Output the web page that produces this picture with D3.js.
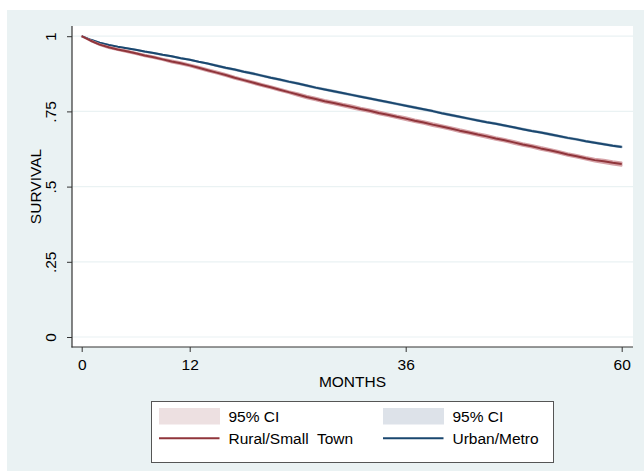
<!DOCTYPE html>
<html>
<head>
<meta charset="utf-8">
<script src="https://cdn.jsdelivr.net/npm/d3@7"></script>
<style>
  html, body { margin: 0; padding: 0; background: #ffffff; }
  svg { display: block; font-family: "Liberation Sans", Arial, Helvetica, sans-serif; }
</style>
</head>
<body>
<svg id="chart" width="644" height="471"></svg>
<script>
// Kaplan-Meier survival estimates by month, with 95% CI half-widths
const months = d3.range(0, 61);

const ruralSurvival = [
  1.000, 0.985, 0.972, 0.963, 0.956, 0.950, 0.943, 0.936, 0.930, 0.923,
  0.916, 0.910, 0.903, 0.895, 0.887, 0.879, 0.871, 0.862, 0.854, 0.846,
  0.838, 0.830, 0.822, 0.814, 0.806, 0.798, 0.791, 0.784, 0.778, 0.771,
  0.765, 0.758, 0.752, 0.745, 0.739, 0.732, 0.726, 0.719, 0.713, 0.706,
  0.700, 0.693, 0.686, 0.680, 0.673, 0.667, 0.660, 0.654, 0.647, 0.640,
  0.634, 0.627, 0.621, 0.614, 0.607, 0.601, 0.594, 0.588, 0.584, 0.579,
  0.575
];
const ruralCI = [
  0.000, 0.002, 0.002, 0.003, 0.003, 0.003, 0.003, 0.003, 0.003, 0.003,
  0.004, 0.004, 0.004, 0.004, 0.004, 0.004, 0.004, 0.004, 0.004, 0.004,
  0.004, 0.004, 0.004, 0.004, 0.005, 0.005, 0.005, 0.005, 0.005, 0.005,
  0.005, 0.005, 0.005, 0.005, 0.005, 0.005, 0.005, 0.005, 0.005, 0.005,
  0.005, 0.005, 0.005, 0.005, 0.005, 0.005, 0.005, 0.005, 0.005, 0.005,
  0.005, 0.005, 0.005, 0.005, 0.005, 0.005, 0.005, 0.005, 0.006, 0.006,
  0.006
];

const urbanSurvival = [
  1.000, 0.988, 0.978, 0.971, 0.965, 0.960, 0.955, 0.949, 0.944, 0.938,
  0.933, 0.927, 0.922, 0.915, 0.909, 0.902, 0.895, 0.889, 0.882, 0.876,
  0.869, 0.862, 0.856, 0.849, 0.843, 0.836, 0.829, 0.823, 0.817, 0.811,
  0.805, 0.799, 0.793, 0.787, 0.781, 0.775, 0.769, 0.763, 0.757, 0.751,
  0.744, 0.738, 0.732, 0.726, 0.720, 0.714, 0.709, 0.703, 0.697, 0.691,
  0.685, 0.680, 0.674, 0.668, 0.662, 0.657, 0.651, 0.646, 0.641, 0.636,
  0.632
];
const urbanCI = [
  0.000, 0.001, 0.001, 0.001, 0.001, 0.001, 0.001, 0.001, 0.001, 0.001,
  0.001, 0.001, 0.001, 0.001, 0.001, 0.002, 0.002, 0.002, 0.002, 0.002,
  0.002, 0.002, 0.002, 0.002, 0.002, 0.002, 0.002, 0.002, 0.002, 0.002,
  0.002, 0.002, 0.002, 0.002, 0.002, 0.002, 0.002, 0.002, 0.002, 0.002,
  0.002, 0.002, 0.002, 0.002, 0.002, 0.002, 0.002, 0.002, 0.002, 0.002,
  0.002, 0.002, 0.002, 0.002, 0.002, 0.002, 0.002, 0.002, 0.002, 0.002,
  0.002
];

const xTicks = [0, 12, 36, 60];
const yTicks = [0, 0.25, 0.5, 0.75, 1];
const yTickLabels = ["0", ".25", ".5", ".75", "1"];

const seriesNames = ["Rural/Small  Town", "Urban/Metro"];
const ciLabel = "95% CI";

// ---- layout ----
const svg = d3.select("#chart");
const plot = { left: 72, top: 26, right: 633, bottom: 347 };
const fontSize = 15.5;

const x = d3.scaleLinear().domain([0, 60]).range([81.7, 621.7]);
const y = d3.scaleLinear().domain([0, 1]).range([337, 36.2]);

const colors = {
  rural: "#90353b",
  urban: "#1a476f",
  ruralBand: "#d6a3a8",
  urbanBand: "#9fb2c4",
  ruralSwatch: "#ede0e1",
  urbanSwatch: "#dde2e9",
  region: "#eaf2f3",
  grid: "#eaf2f3",
  axis: "#333333"
};

// graph region
svg.append("rect").attr("x", 7).attr("y", 10).attr("width", 637).attr("height", 461)
  .attr("fill", colors.region);

// plot region
svg.append("rect").attr("x", plot.left).attr("y", plot.top)
  .attr("width", plot.right - plot.left).attr("height", plot.bottom - plot.top)
  .attr("fill", "#ffffff");

// horizontal grid lines
svg.append("g").selectAll("line").data(yTicks).join("line")
  .attr("x1", plot.left).attr("x2", plot.right)
  .attr("y1", d => y(d)).attr("y2", d => y(d))
  .attr("stroke", colors.grid).attr("stroke-width", 1.2);

// confidence bands and survival lines
function drawSeries(values, ci, bandColor, lineColor) {
  const pts = months.map((m, i) => ({ m, s: values[i], h: ci[i] }));
  const area = d3.area().x(d => x(d.m)).y0(d => y(d.s - d.h)).y1(d => y(d.s + d.h));
  svg.append("path").datum(pts).attr("d", area)
    .attr("fill", bandColor).attr("stroke", bandColor).attr("stroke-width", 1.6)
    .attr("stroke-linejoin", "round");
  const line = d3.line().x(d => x(d.m)).y(d => y(d.s));
  svg.append("path").datum(pts).attr("d", line)
    .attr("fill", "none").attr("stroke", lineColor).attr("stroke-width", 2)
    .attr("stroke-linejoin", "round");
}
drawSeries(urbanSurvival, urbanCI, colors.urbanBand, colors.urban);
drawSeries(ruralSurvival, ruralCI, colors.ruralBand, colors.rural);

// axes
const yAxis = d3.axisLeft(y).tickValues(yTicks).tickSize(5).tickPadding(0)
  .tickFormat((d, i) => yTickLabels[i]);
const gy = svg.append("g").attr("transform", `translate(${plot.left},0)`).call(yAxis);
gy.select(".domain").remove();
gy.selectAll(".tick line").attr("stroke", colors.axis);
gy.selectAll(".tick text")
  .attr("transform", "rotate(-90)")
  .attr("x", 0).attr("y", -16.5).attr("dy", 0)
  .attr("text-anchor", "middle")
  .attr("font-size", fontSize).attr("fill", "#000")
  .attr("font-family", "Liberation Sans, Arial, sans-serif");
svg.append("line").attr("x1", plot.left).attr("x2", plot.left)
  .attr("y1", plot.top).attr("y2", plot.bottom + 0.5)
  .attr("stroke", colors.axis).attr("stroke-width", 1.2);

const xAxis = d3.axisBottom(x).tickValues(xTicks).tickSize(5).tickPadding(5)
  .tickFormat(d3.format("d"));
const gx = svg.append("g").attr("transform", `translate(0,${plot.bottom})`).call(xAxis);
gx.select(".domain").remove();
gx.selectAll(".tick line").attr("stroke", colors.axis);
gx.selectAll(".tick text").attr("font-size", fontSize).attr("fill", "#000")
  .attr("font-family", "Liberation Sans, Arial, sans-serif")
  .attr("dy", 0).attr("y", 22.5);
svg.append("line").attr("x1", plot.left - 0.5).attr("x2", plot.right)
  .attr("y1", plot.bottom).attr("y2", plot.bottom)
  .attr("stroke", colors.axis).attr("stroke-width", 1.2);

// axis titles
svg.append("text").attr("x", (plot.left + plot.right) / 2).attr("y", 387)
  .attr("text-anchor", "middle").attr("font-size", fontSize).text("MONTHS");
svg.append("text")
  .attr("transform", `translate(41,${(plot.top + plot.bottom) / 2}) rotate(-90)`)
  .attr("text-anchor", "middle").attr("font-size", fontSize).text("SURVIVAL");

// legend
const lg = svg.append("g");
lg.append("rect").attr("x", 151.5).attr("y", 401.5).attr("width", 402).attr("height", 61)
  .attr("fill", "#ffffff").attr("stroke", "#555555").attr("stroke-width", 1);

const legendCols = [
  { x: 159, swatch: colors.ruralSwatch, line: colors.rural, name: seriesNames[0] },
  { x: 383, swatch: colors.urbanSwatch, line: colors.urban, name: seriesNames[1] }
];
legendCols.forEach(c => {
  lg.append("rect").attr("x", c.x).attr("y", 408).attr("width", 61).attr("height", 16.5)
    .attr("fill", c.swatch);
  lg.append("text").attr("x", c.x + 69.5).attr("y", 421.5).attr("font-size", fontSize)
    .text(ciLabel);
  lg.append("line").attr("x1", c.x).attr("x2", c.x + 60.5).attr("y1", 438.3).attr("y2", 438.3)
    .attr("stroke", c.line).attr("stroke-width", 2);
  lg.append("text").attr("x", c.x + 69.5).attr("y", 444).attr("font-size", fontSize)
    .attr("xml:space", "preserve").style("white-space", "pre")
    .text(c.name);
});
</script>
</body>
</html>
